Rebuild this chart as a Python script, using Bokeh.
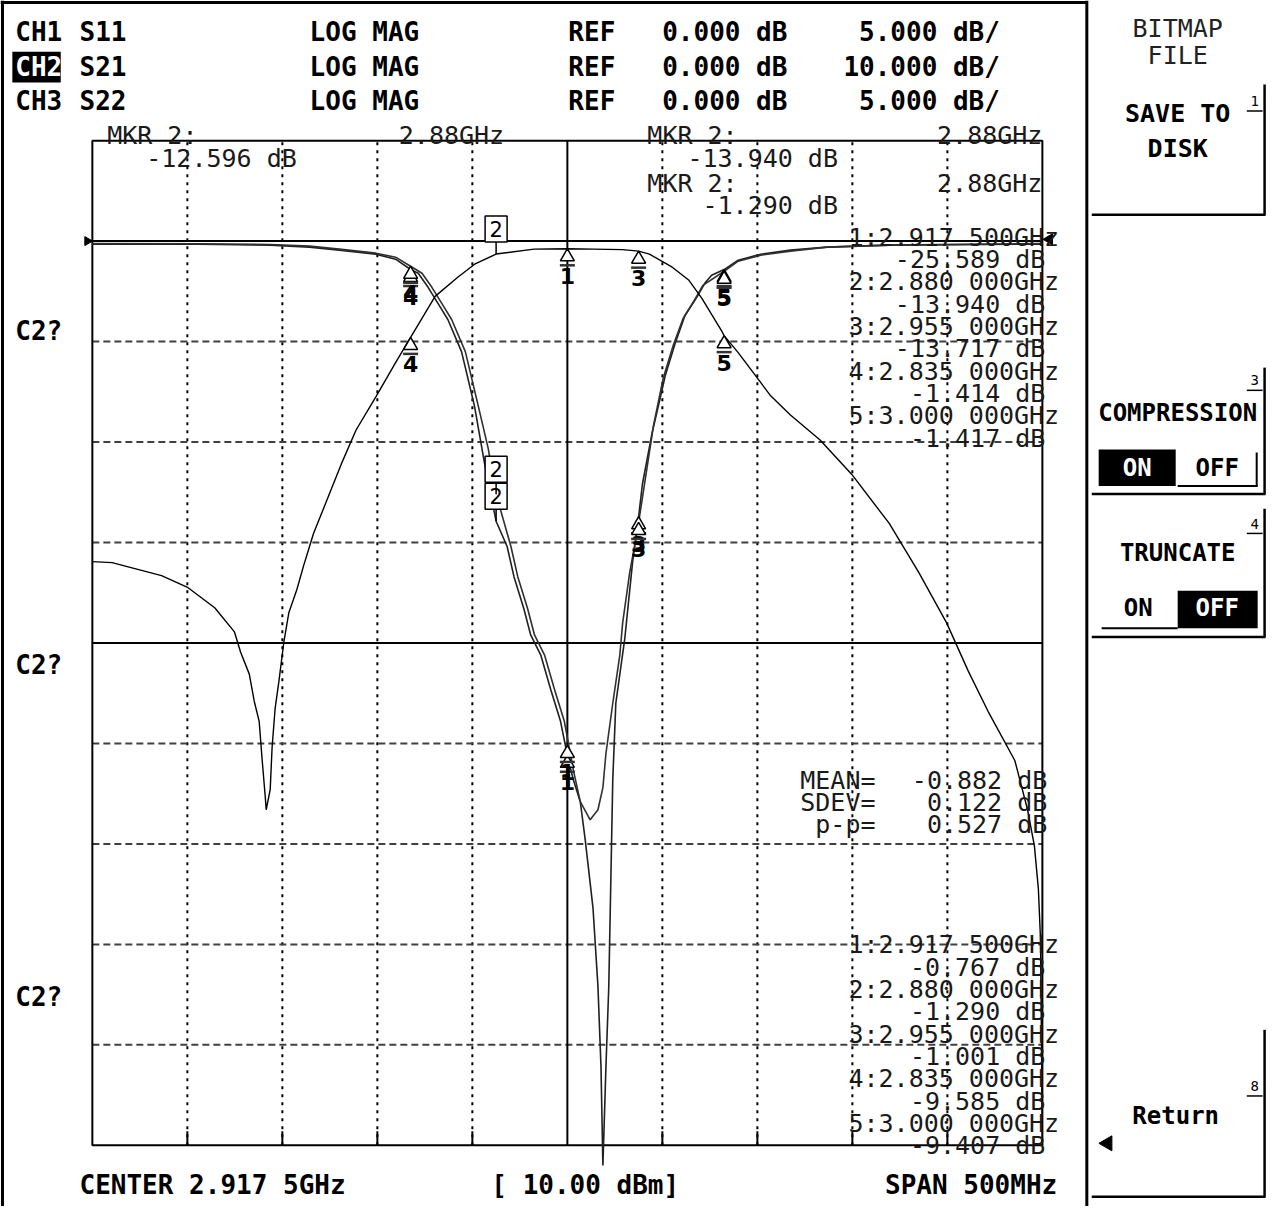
import numpy as np
from bokeh.plotting import figure
from bokeh.models import Range1d
from bokeh.core.properties import value
from bokeh.embed import file_html
from bokeh.resources import INLINE

center_ghz = 2.9175
span_ghz = 0.5
ref_db = 0.0
ref_div = 9
s21_per_div = 10.0
s11_per_div = 5.0

# CH2 : S21 (10 dB/div)
s21_f = [2.6675, 2.6779, 2.6919, 2.7039, 2.7179, 2.7319, 2.7423, 2.7455, 2.7501, 2.7527,
         2.7553, 2.7569, 2.7585, 2.7590, 2.7611, 2.7621, 2.7637, 2.7657, 2.7683, 2.7709,
         2.7751, 2.7787, 2.7818, 2.7839, 2.7907, 2.7985, 2.8063, 2.8167, 2.8271, 2.8350,
         2.8479, 2.8598, 2.8687, 2.8800, 2.9000, 2.9175, 2.9310, 2.9466, 2.9550, 2.9607,
         2.9727, 2.9815, 2.9883, 2.9986, 3.0000, 3.0074, 3.0245, 3.0349, 3.0505, 3.0671,
         3.0869, 3.1025, 3.1171, 3.1285, 3.1389, 3.1530, 3.1597, 3.1633, 3.1654, 3.1665,
         3.1670, 3.1675]
s21_db = [-31.9, -32.0, -32.7, -33.3, -34.5, -36.5, -38.9, -40.9, -43.1, -45.8,
          -47.8, -51.7, -55.3, -56.6, -54.6, -50.4, -46.5, -43.8, -39.9, -37.0,
          -34.7, -32.3, -30.4, -29.1, -25.9, -22.2, -18.8, -15.5, -12.1, -9.585,
          -5.5, -3.6, -2.3, -1.290, -0.8, -0.767, -0.8, -0.85, -1.001, -1.3,
          -2.6, -3.9, -5.7, -8.9, -9.407, -11.1, -15.4, -17.3, -19.8, -23.2,
          -28.1, -33.0, -38.0, -42.8, -46.8, -51.7, -56.6, -60.2, -64.5, -69.4,
          -79.2, -90.0]

# CH1 : S11 (5 dB/div)
s11_f = [2.6675, 2.7231, 2.7611, 2.7818, 2.7974, 2.8167, 2.8271, 2.8350, 2.8390, 2.8442,
         2.8494, 2.8546, 2.8618, 2.8686, 2.8738, 2.8800, 2.8858, 2.8894, 2.8946, 2.8982,
         2.9035, 2.9087, 2.9139, 2.9175, 2.9206, 2.9243, 2.9269, 2.9310, 2.9336, 2.9352,
         2.9362, 2.9378, 2.9393, 2.9414, 2.9430, 2.9477, 2.9518, 2.9550, 2.9570, 2.9622,
         2.9659, 2.9690, 2.9742, 2.9794, 2.9856, 2.9898, 2.9934, 3.0000, 3.0074, 3.0193,
         3.0349, 3.0542, 3.0869, 3.1675]
s11_db = [-0.15, -0.16, -0.2, -0.3, -0.45, -0.65, -0.9, -1.414, -1.6, -2.3,
          -3.1, -3.9, -5.5, -8.2, -11.0, -13.940, -15.2, -16.7, -18.3, -19.6,
          -20.6, -22.3, -23.9, -25.589, -26.8, -27.9, -29.8, -33.2, -37.1, -41.1,
          -46.0, -41.1, -37.1, -26.8, -23.0, -19.8, -16.0, -13.717, -12.1, -9.5,
          -8.0, -6.7, -5.1, -3.7, -2.8, -2.1, -1.7, -1.417, -0.95, -0.65,
          -0.45, -0.3, -0.2, -0.15]

# CH3 : S22 (5 dB/div)
s22_f = [2.6675, 2.7231, 2.7611, 2.7818, 2.7974, 2.8167, 2.8271, 2.8350, 2.8410, 2.8462,
         2.8514, 2.8566, 2.8638, 2.8706, 2.8758, 2.8800, 2.8878, 2.8914, 2.8966, 2.9002,
         2.9055, 2.9107, 2.9159, 2.9206, 2.9243, 2.9295, 2.9336, 2.9362, 2.9378, 2.9414,
         2.9451, 2.9466, 2.9503, 2.9534, 2.9550, 2.9576, 2.9628, 2.9680, 2.9732, 2.9784,
         2.9846, 2.9888, 3.0000, 3.0074, 3.0193, 3.0349, 3.0542, 3.0869, 3.1675]
s22_db = [-0.12, -0.13, -0.17, -0.25, -0.4, -0.6, -0.8, -1.25, -1.6, -2.3,
          -3.1, -3.9, -5.5, -8.2, -10.3, -12.596, -15.2, -16.7, -18.3, -19.6,
          -20.6, -22.3, -23.9, -26.3, -27.9, -28.8, -28.3, -27.2, -25.5, -23.0,
          -20.6, -19.0, -16.5, -14.9, -14.0, -12.4, -9.2, -6.8, -5.2, -3.85,
          -2.9, -2.2, -1.5, -1.0, -0.7, -0.5, -0.3, -0.2, -0.12]

# markers
marker_id = ["1", "2", "3", "4", "5"]
marker_f = [2.9175, 2.880, 2.955, 2.835, 3.000]
s11_mk_db = [-25.589, -13.940, -13.717, -1.414, -1.417]
s21_mk_db = [-0.767, -1.290, -1.001, -9.585, -9.407]
s22_mk_db = [-25.1, -12.596, -14.0, -1.25, -1.5]
active_marker = 1

# statistics
stat_labels = ["MEAN=", "SDEV=", "p-p="]
stat_values = [-0.882, 0.122, 0.527]

# graticule lines
grid_f_dotted = [2.7175, 2.7675, 2.8175, 2.8675, 2.9675, 3.0175, 3.0675, 3.1175]
grid_f_solid = [2.9175]
grid_db_dashed = [-10, -20, -30, -50, -60, -70, -80]
grid_db_solid = [0, -40]

# ---------------- layout (reference pixel frame) ----------------
REF_W, REF_H = 1287, 1222
W, H = 1271, 1206
GX0, GX1, GY0, GY1 = 93, 1055, 142, 1160
F0 = center_ghz - span_ghz / 2
F1 = center_ghz + span_ghz / 2
T21 = ref_db + (10 - ref_div) * s21_per_div
B21 = ref_db - ref_div * s21_per_div
T5 = ref_db + (10 - ref_div) * s11_per_div
B5 = ref_db - ref_div * s11_per_div


def X(px):
    return F0 + (px - GX0) * (F1 - F0) / (GX1 - GX0)


def Y(py):
    return T21 - (py - GY0) * (T21 - B21) / (GY1 - GY0)


def Y5(py):
    return T5 - (py - GY0) * (T5 - B5) / (GY1 - GY0)


p = figure(width=W, height=H, x_range=Range1d(X(0), X(REF_W)), y_range=Range1d(Y(REF_H), Y(0)),
           output_backend="svg", toolbar_location=None, min_border=0,
           x_axis_location=None, y_axis_location=None, outline_line_color=None,
           background_fill_color="white", border_fill_color="white")
p.extra_y_ranges = {"s5": Range1d(Y5(REF_H), Y5(0))}
p.grid.visible = False

ppu21 = H / (Y(0) - Y(REF_H))
ppu5 = H / (Y5(0) - Y5(REF_H))

MONO = "DejaVu Sans Mono"


def T(px, py, s, size=26, bold=False, align="left", color="black", baseline="middle", font=MONO):
    p.text(x=[X(px)], y=[Y(py)], text=[s], text_font=value(font), text_font_size=f"{size}px",
           text_font_style="bold" if bold else "normal", text_align=align,
           text_baseline=baseline, text_color=color)


def L(x0, y0, x1, y1, w=2, color="black", dash="solid"):
    p.segment(x0=[X(x0)], y0=[Y(y0)], x1=[X(x1)], y1=[Y(y1)], line_width=w,
              line_color=color, line_dash=dash)


def BOX(l, t, r, b, color="black"):
    p.quad(left=[X(l)], right=[X(r)], top=[Y(t)], bottom=[Y(b)], fill_color=color, line_color=None)


# ---------------- graticule ----------------
n = len(grid_f_dotted)
p.segment(x0=grid_f_dotted, y0=[B21] * n, x1=grid_f_dotted, y1=[T21] * n,
          line_color="black", line_width=2, line_dash="3 5")
p.segment(x0=grid_f_dotted, y0=[B21] * n, x1=grid_f_dotted, y1=[B21 + 1.4] * n,
          line_color="black", line_width=2)
m = len(grid_db_dashed)
p.segment(x0=[F0] * m, y0=grid_db_dashed, x1=[F1] * m, y1=grid_db_dashed,
          line_color="#404040", line_width=2, line_dash="7 4")
p.segment(x0=grid_f_solid, y0=[B21], x1=grid_f_solid, y1=[T21], line_color="black", line_width=2)
p.segment(x0=[F0, F0], y0=grid_db_solid, x1=[F1, F1], y1=grid_db_solid, line_color="black", line_width=2)
p.quad(left=[F0], right=[F1], top=[T21], bottom=[B21], fill_color=None, line_color="black", line_width=2)

# reference position indicators
p.scatter([X(88)], [ref_db], marker="triangle", angle=-np.pi / 2, size=9, fill_color="black", line_color="black")
p.scatter([X(1062)], [Y(242)], marker="triangle", angle=np.pi / 2, size=11, fill_color="black", line_color="black")

# ---------------- traces ----------------
p.line(s11_f, s11_db, y_range_name="s5", line_color="#202020", line_width=1.6)
p.line(s22_f, s22_db, y_range_name="s5", line_color="#303030", line_width=1.6)
p.line(s21_f, s21_db, line_color="black", line_width=1.4)


# ---------------- markers ----------------
def draw_markers(mf, mdb, yname, ppu):
    kw = {"y_range_name": yname} if yname else {}
    idx = [i for i in range(len(mf)) if i != active_marker]
    fx = [mf[i] for i in idx]
    fy = [mdb[i] for i in idx]
    p.scatter(fx, [v - 8.0 / ppu for v in fy], marker="triangle", size=14, fill_color="white",
              line_color="black", line_width=1.5, **kw)
    p.scatter(fx, [v - 16.5 / ppu for v in fy], marker="dash", size=15, line_color="#333333",
              line_width=2.5, **kw)
    p.text(x=fx, y=fy, text=[marker_id[i] for i in idx], y_offset=19, text_align="center",
           text_baseline="top", text_font=value("DejaVu Sans"), text_font_style="bold",
           text_font_size="22px", text_color="black", **kw)
    a = active_marker
    p.segment(x0=[mf[a]], y0=[mdb[a]], x1=[mf[a]], y1=[mdb[a] + 12 / ppu], line_color="black",
              line_width=1.5, **kw)
    p.rect(x=[mf[a]], y=[mdb[a] + 25 / ppu], width=22, height=26, width_units="screen",
           height_units="screen", fill_color="white", line_color="black", line_width=1.5, **kw)
    p.text(x=[mf[a]], y=[mdb[a] + 25 / ppu], text=[marker_id[a]], text_align="center",
           text_baseline="middle", text_font=value("DejaVu Sans"), text_font_size="21px",
           text_color="black", **kw)


draw_markers(marker_f, s21_mk_db, None, ppu21)
draw_markers(marker_f, s11_mk_db, "s5", ppu5)
draw_markers(marker_f, s22_mk_db, "s5", ppu5)

# ---------------- header ----------------
rows = [(32, "CH1", "S11", "5.000 dB/"), (67, "CH2", "S21", "10.000 dB/"), (102, "CH3", "S22", "5.000 dB/")]
BOX(12, 52, 61, 83)
for (yy, ch, sp, sc) in rows:
    T(15, yy, ch, bold=True, color="white" if ch == "CH2" else "black")
    T(80, yy, sp, bold=True)
    T(313, yy, "LOG MAG", bold=True)
    T(575, yy, "REF", bold=True)
    T(670, yy, "0.000 dB", bold=True)
    T(1012, yy, sc, bold=True, align="right")

for yy in (335, 673, 1010):
    T(15, yy, "C2?", bold=True)

# marker readouts at top of graticule
THIN = dict(size=25, color="#1a1a1a")
T(108, 137, "MKR  2:", **THIN)
T(510, 137, "2.88GHz", align="right", **THIN)
T(300, 160, f"{s22_mk_db[1]:.3f} dB", align="right", **THIN)
T(655, 137, "MKR  2:", **THIN)
T(1055, 137, "2.88GHz", align="right", **THIN)
T(848, 160, f"{s11_mk_db[1]:.3f} dB", align="right", **THIN)
T(655, 185, "MKR  2:", **THIN)
T(1055, 185, "2.88GHz", align="right", **THIN)
T(848, 208, f"{s21_mk_db[1]:.3f} dB", align="right", **THIN)


def freq_str(i, f):
    s = f"{f:.6f}"
    return f"{i}:{s[:5]} {s[5:]}GHz"


def marker_table(y0, vals):
    step = 22.6
    for k, (mid, f, v) in enumerate(zip(marker_id, marker_f, vals)):
        T(1072, y0 + 2 * k * step, freq_str(mid, f), align="right", **THIN)
        T(1058, y0 + (2 * k + 1) * step, f"{v:.3f} dB", align="right", **THIN)


marker_table(240, s11_mk_db)
marker_table(957, s21_mk_db)

for k, (lab, v) in enumerate(zip(stat_labels, stat_values)):
    T(886, 790 + k * 22.6, lab, align="right", **THIN)
    T(1060, 790 + k * 22.6, f"{v:.3f} dB", align="right", **THIN)

# bottom line
T(80, 1200, f"CENTER {center_ghz:.4f}"[:-1] + " " + f"{center_ghz:.4f}"[-1] + "GHz", bold=True)
T(497, 1200, "[ 10.00 dBm]", bold=True)
T(1070, 1200, f"SPAN {span_ghz * 1000:.0f}MHz", bold=True, align="right")

# ---------------- screen frame & softkeys ----------------
L(2, 0, 2, 1222, w=3)
L(0, 2, 1100, 2, w=3)
L(1100, 0, 1100, 1222, w=3)

T(1192, 28, "BITMAP", size=25, align="center", color="#222222")
T(1192, 56, "FILE", size=25, align="center", color="#222222")
T(1192, 115, "SAVE TO", size=25, bold=True, align="center")
T(1192, 150, "DISK", size=25, bold=True, align="center")
T(1270, 102, "1", size=14, align="center")
L(1262, 112, 1278, 112, w=1.5)
L(1280, 85, 1280, 217, w=2.5)
L(1105, 217, 1281, 217, w=2.5)

T(1270, 385, "3", size=14, align="center")
L(1262, 395, 1278, 395, w=1.5)
T(1192, 418, "COMPRESSION", size=24, bold=True, align="center")
BOX(1112, 455, 1190, 492)
T(1151, 474, "ON", size=24, bold=True, align="center", color="white")
T(1232, 474, "OFF", size=24, bold=True, align="center")
L(1192, 492, 1273, 492, w=2)
L(1272, 458, 1272, 492, w=2)
L(1280, 372, 1280, 500, w=2.5)
L(1105, 500, 1281, 500, w=2.5)

T(1270, 530, "4", size=14, align="center")
L(1262, 540, 1278, 540, w=1.5)
T(1192, 560, "TRUNCATE", size=24, bold=True, align="center")
T(1152, 616, "ON", size=24, bold=True, align="center")
L(1115, 636, 1192, 636, w=2)
BOX(1192, 598, 1273, 636)
T(1232, 616, "OFF", size=24, bold=True, align="center", color="white")
L(1280, 515, 1280, 645, w=2.5)
L(1105, 645, 1281, 645, w=2.5)

T(1270, 1100, "8", size=14, align="center")
L(1262, 1110, 1278, 1110, w=1.5)
T(1190, 1130, "Return", size=24, bold=True, align="center")
p.scatter([X(1121)], [Y(1158)], marker="triangle", angle=np.pi / 2, size=15, fill_color="black", line_color="black")
L(1280, 1043, 1280, 1212, w=2.5)
L(1105, 1212, 1281, 1212, w=2.5)

open("out.html", "w").write(file_html(p, INLINE))
